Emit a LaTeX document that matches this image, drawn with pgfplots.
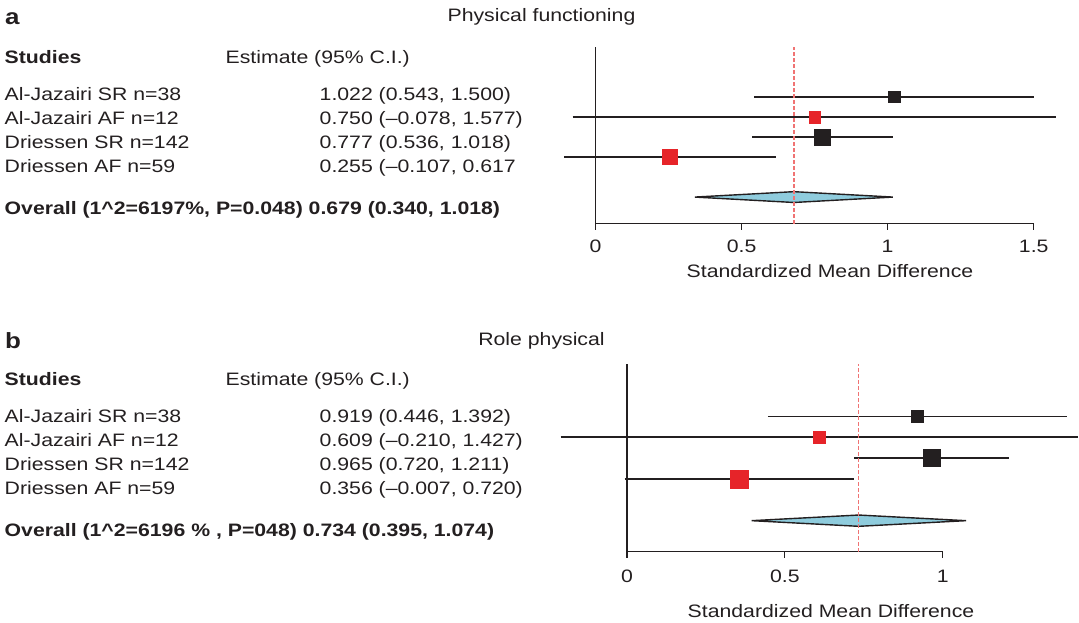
\documentclass[border=0pt]{standalone}
\usepackage{fontspec}
\setmainfont{Liberation Sans}[FakeStretch=1.18]
\usepackage{pgfplots}
\pgfplotsset{compat=1.18}
\definecolor{fpred}{RGB}{230,36,41}
\definecolor{fpblack}{RGB}{35,31,32}
\definecolor{fpblue}{RGB}{143,204,221}
\definecolor{fpdash}{RGB}{240,115,115}
\pgfplotsset{
  forest/.style={
    scale only axis, anchor=south west, clip=false,
    axis x line=bottom, axis y line=left,
    axis line style={-, line width=1.3pt, fpblack},
    ytick=\empty,
    tick align=outside, major tick length=6pt,
    tick style={line width=1.3pt, fpblack},
    /pgf/number format/assume math mode=true,
    xticklabel style={anchor=base, inner sep=0pt, yshift=-22.3pt},
  },
  ci/.style={line width=1.3pt, fpblack, no marks},
  est/.style={only marks, mark=square*, mark options={draw=none}},
  refline/.style={fpdash, line width=1.3pt, dash pattern=on 3.5pt off 2.5pt},
}
\begin{document}
\fontsize{18}{22}\selectfont
\color{fpblack}%
\begin{tikzpicture}
\useasboundingbox (0pt,0pt) rectangle (1079pt,-622pt);
% ---------------- panel a ----------------
\node[anchor=base west, inner sep=0pt, font=\bfseries\fontsize{22}{26}\selectfont] at (5pt,-24pt) {a};
\node[anchor=base, inner sep=0pt] at (541.5pt,-21pt) {Physical functioning};
\node[anchor=base west, inner sep=0pt, font=\bfseries] at (4.5pt,-63pt) {Studies};
\node[anchor=base west, inner sep=0pt] at (225.5pt,-63pt) {Estimate (95\% C.I.)};
\node[anchor=base west, inner sep=0pt] at (4.5pt,-100pt) {Al-Jazairi SR n=38};
\node[anchor=base west, inner sep=0pt] at (4.5pt,-124pt) {Al-Jazairi AF n=12};
\node[anchor=base west, inner sep=0pt] at (4.5pt,-148pt) {Driessen SR n=142};
\node[anchor=base west, inner sep=0pt] at (4.5pt,-172pt) {Driessen AF n=59};
\node[anchor=base west, inner sep=0pt] at (319.5pt,-100pt) {1.022 (0.543, 1.500)};
\node[anchor=base west, inner sep=0pt] at (319.5pt,-124pt) {0.750 (--0.078, 1.577)};
\node[anchor=base west, inner sep=0pt] at (319.5pt,-148pt) {0.777 (0.536, 1.018)};
\node[anchor=base west, inner sep=0pt] at (319.5pt,-172pt) {0.255 (--0.107, 0.617};
\node[anchor=base west, inner sep=0pt, font=\bfseries] at (4.5pt,-214pt) {Overall (1\textasciicircum 2=6197\%, P=0.048) 0.679 (0.340, 1.018)};
\node[anchor=base, inner sep=0pt] at (830pt,-277pt) {Standardized Mean Difference};
\begin{axis}[forest,
  at={(595.5pt,-223.7pt)}, width=438.2pt, height=176.8pt,
  xmin=0, xmax=1.5, ymin=-7.33, ymax=1.5,
  xtick={0,0.5,1,1.5}, xticklabels={0,0.5,1,1.5}]
  \addplot[ci] coordinates {(0.543,-1) (1.500,-1)};
  \addplot[ci] coordinates {(-0.078,-2) (1.577,-2)};
  \addplot[ci] coordinates {(0.536,-3) (1.018,-3)};
  \addplot[ci] coordinates {(-0.107,-4) (0.617,-4)};
  \addplot[est, fpblack, mark size=5.7pt] coordinates {(1.022,-1)};
  \addplot[est, fpred, mark size=5.9pt] coordinates {(0.750,-2)};
  \addplot[est, fpblack, mark size=8.1pt] coordinates {(0.777,-3)};
  \addplot[est, fpred, mark size=7.4pt] coordinates {(0.255,-4)};
  \addplot[fill=fpblue, draw=fpblack, line width=1.4pt] coordinates {(0.340,-6) (0.679,-5.73) (1.018,-6) (0.679,-6.27)} -- cycle;
  \addplot[refline] coordinates {(0.679,-7.33) (0.679,1.5)};
\end{axis}
% ---------------- panel b ----------------
\node[anchor=base west, inner sep=0pt, font=\bfseries\fontsize{22}{26}\selectfont] at (5pt,-348pt) {b};
\node[anchor=base, inner sep=0pt] at (541.5pt,-345pt) {Role physical};
\node[anchor=base west, inner sep=0pt, font=\bfseries] at (4.5pt,-385pt) {Studies};
\node[anchor=base west, inner sep=0pt] at (225.5pt,-385pt) {Estimate (95\% C.I.)};
\node[anchor=base west, inner sep=0pt] at (4.5pt,-422pt) {Al-Jazairi SR n=38};
\node[anchor=base west, inner sep=0pt] at (4.5pt,-446pt) {Al-Jazairi AF n=12};
\node[anchor=base west, inner sep=0pt] at (4.5pt,-470pt) {Driessen SR n=142};
\node[anchor=base west, inner sep=0pt] at (4.5pt,-494pt) {Driessen AF n=59};
\node[anchor=base west, inner sep=0pt] at (319.5pt,-422pt) {0.919 (0.446, 1.392)};
\node[anchor=base west, inner sep=0pt] at (319.5pt,-446pt) {0.609 (--0.210, 1.427)};
\node[anchor=base west, inner sep=0pt] at (319.5pt,-470pt) {0.965 (0.720, 1.211)};
\node[anchor=base west, inner sep=0pt] at (319.5pt,-494pt) {0.356 (--0.007, 0.720)};
\node[anchor=base west, inner sep=0pt, font=\bfseries] at (4.5pt,-536pt) {Overall (1\textasciicircum 2=6196 \% , P=048) 0.734 (0.395, 1.074)};
\node[anchor=base, inner sep=0pt] at (831pt,-617pt) {Standardized Mean Difference};
\begin{axis}[forest,
  at={(626.9pt,-551.8pt)}, width=315.8pt, height=188.3pt,
  xmin=0, xmax=1, ymin=-7.49, ymax=1.52,
  xtick={0,0.5,1}, xticklabels={0,0.5,1},
  xticklabel style={yshift=-2pt}]
  \addplot[ci] coordinates {(0.446,-1) (1.392,-1)};
  \addplot[ci] coordinates {(-0.210,-2) (1.427,-2)};
  \addplot[ci] coordinates {(0.720,-3) (1.211,-3)};
  \addplot[ci] coordinates {(-0.007,-4) (0.720,-4)};
  \addplot[est, fpblack, mark size=6.4pt] coordinates {(0.919,-1)};
  \addplot[est, fpred, mark size=5.9pt] coordinates {(0.609,-2)};
  \addplot[est, fpblack, mark size=8.6pt] coordinates {(0.965,-3)};
  \addplot[est, fpred, mark size=9.1pt] coordinates {(0.356,-4)};
  \addplot[fill=fpblue, draw=fpblack, line width=1.4pt] coordinates {(0.395,-6) (0.734,-5.73) (1.074,-6) (0.734,-6.27)} -- cycle;
  \addplot[refline] coordinates {(0.734,-7.49) (0.734,1.52)};
\end{axis}
\end{tikzpicture}
\end{document}
